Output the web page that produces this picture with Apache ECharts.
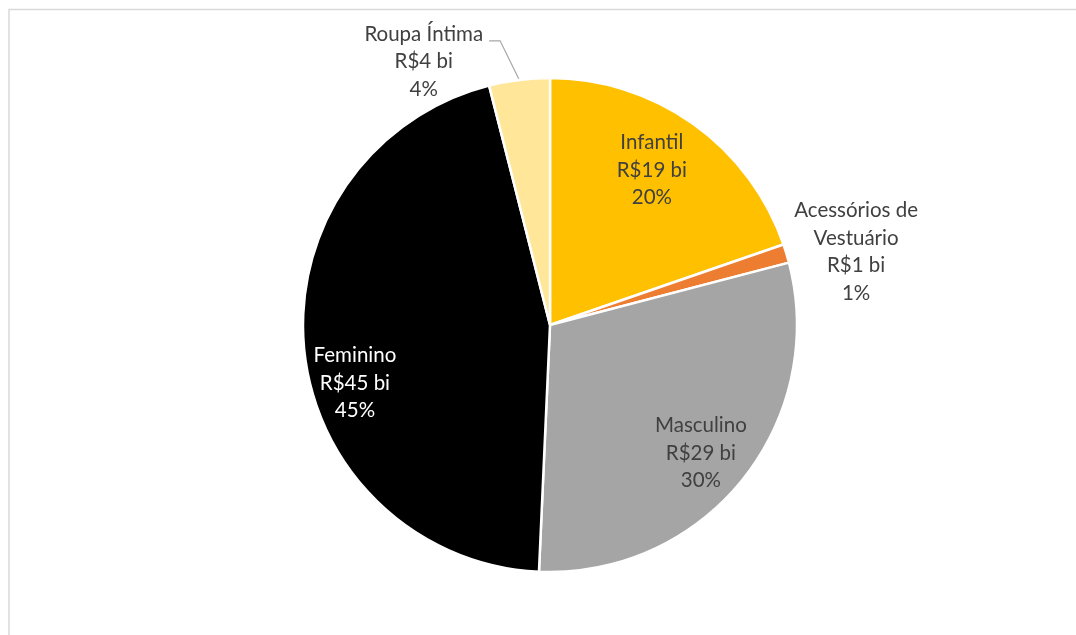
<!DOCTYPE html>
<html>
<head>
<meta charset="utf-8">
<script src="https://cdn.jsdelivr.net/npm/echarts@6/dist/echarts.min.js"></script>
<style>
  html, body { margin: 0; padding: 0; background: #fff; }
  #chart { width: 1076px; height: 635px; }
</style>
</head>
<body>
<div id="chart"></div>
<script>
// ---- data ----
const categories = ['Infantil', 'Acessórios de\nVestuário', 'Masculino', 'Feminino', 'Roupa Íntima'];
const valuesBi = [19.4, 1.2, 29.3, 44.6, 3.9];
const colors = ['#FFC000', '#ED7D31', '#A5A5A5', '#000000', '#FFE699'];
const labelColors = ['#404040', '#404040', '#404040', '#FFFFFF', '#404040'];
// label placement: [angle in degrees clockwise from top, distance as fraction of radius]
const labelPolar = [[33.3, 0.751], [76.6, 1.274], [130.3, 0.801], [253.4, 0.824], [334.4, 1.183]];
const showLeader = [false, false, false, false, true];

const CX = 550, CY = 325, R = 247;
const FONT = 'Lato, "Open Sans", sans-serif';
const LINE_H = 27.5;

const total = valuesBi.reduce((a, b) => a + b, 0);
// mid angles (clockwise from top)
const midAngles = [];
let acc = 0;
valuesBi.forEach(v => { const a = v / total * 360; midAngles.push(acc + a / 2); acc += a; });

function polar(angDeg, dist) {
  const a = angDeg * Math.PI / 180;
  return [CX + dist * Math.sin(a), CY - dist * Math.cos(a)];
}

const data = categories.map((name, i) => ({
  name: name,
  value: valuesBi[i],
  itemStyle: { color: colors[i] },
  label: { color: labelColors[i], position: showLeader[i] || i === 1 ? 'outside' : 'inside' },
  labelLine: { show: showLeader[i] }
}));

const chart = echarts.init(document.getElementById('chart'), null, { renderer: 'canvas' });
chart.setOption({
  backgroundColor: '#ffffff',
  animation: false,
  graphic: [{
    type: 'rect',
    shape: { x: 9, y: 9.5, width: 1200, height: 800 },
    style: { fill: 'none', stroke: '#d9d9d9', lineWidth: 1.5 },
    silent: true
  }],
  series: [{
    type: 'pie',
    center: [CX, CY],
    radius: [0, R],
    startAngle: 90,
    clockwise: true,
    avoidLabelOverlap: false,
    itemStyle: { borderColor: '#ffffff', borderWidth: 2.5 },
    label: {
      show: true,
      fontFamily: FONT,
      fontSize: 20.5,
      lineHeight: LINE_H,
      align: 'center',
      formatter: function (p) {
        return p.name + '\nR$' + Math.round(p.value) + ' bi\n' + Math.round(p.percent) + '%';
      }
    },
    labelLine: {
      lineStyle: { color: '#a6a6a6', width: 1.2 }
    },
    labelLayout: function (params) {
      const i = params.dataIndex;
      const pos = polar(labelPolar[i][0], labelPolar[i][1] * R);
      const out = { x: pos[0], y: pos[1], align: 'center', verticalAlign: 'middle' };
      if (showLeader[i]) {
        const w = params.labelRect.width, h = params.labelRect.height;
        const p0 = polar(midAngles[i], R);
        const p2 = [pos[0] + w / 2 + 6, pos[1] - h / 2 + LINE_H * 0.75];
        const p1 = [p2[0] + 11, p2[1]];
        out.labelLinePoints = [p0, p1, p2];
      }
      return out;
    },
    data: data
  }]
});
</script>
</body>
</html>
